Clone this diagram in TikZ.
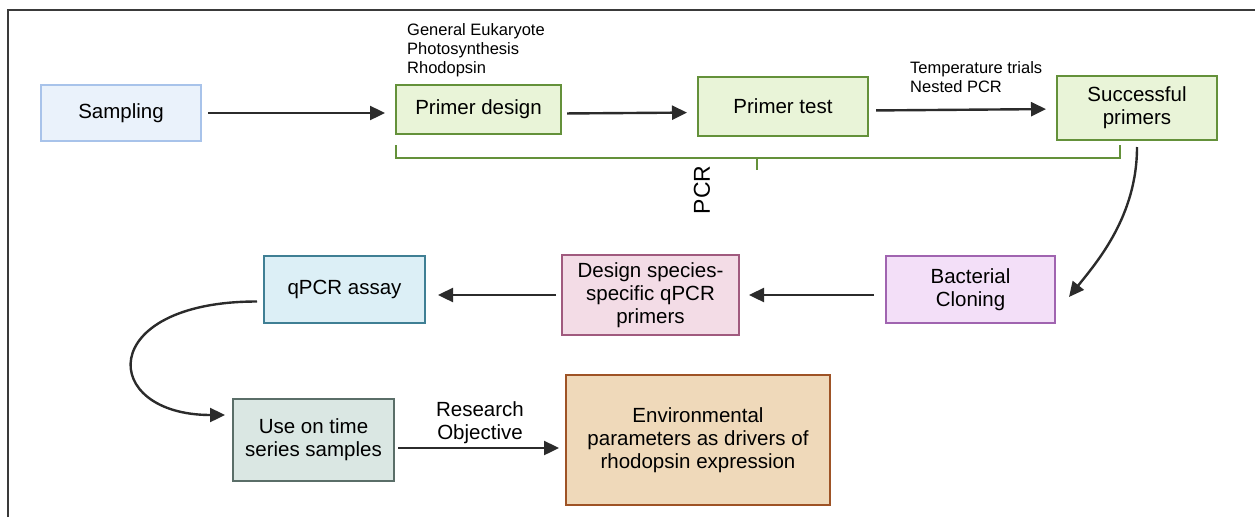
\documentclass[tikz,border=0pt]{standalone}
\usepackage{fontspec}
\setmainfont{Liberation Sans}
\usetikzlibrary{arrows.meta,positioning}

\definecolor{sampfill}{HTML}{EAF2FB}
\definecolor{sampline}{HTML}{A8C3EA}
\definecolor{pcrfill}{HTML}{E9F4D8}
\definecolor{pcrline}{HTML}{64913A}
\definecolor{clonfill}{HTML}{F3DFF8}
\definecolor{clonline}{HTML}{A064B0}
\definecolor{specfill}{HTML}{F3DCE6}
\definecolor{specline}{HTML}{A05A7E}
\definecolor{qpcrfill}{HTML}{DCEFF6}
\definecolor{qpcrline}{HTML}{3F7F94}
\definecolor{usefill}{HTML}{DAE7E3}
\definecolor{useline}{HTML}{5A6E68}
\definecolor{envfill}{HTML}{EFD9BA}
\definecolor{envline}{HTML}{9E5326}
\definecolor{arrcol}{HTML}{2B2B2B}
\definecolor{framecol}{HTML}{3A3A3A}

\begin{document}
\begin{tikzpicture}[x=1pt, y=-1pt,
  every node/.style={font=\fontsize{20.5}{23}\selectfont},
  box/.style={draw, line width=2pt, align=center, inner sep=2pt},
  arr/.style={-{Triangle[length=15pt,width=14pt]}, line width=2.4pt, draw=arrcol},
  note/.style={font=\fontsize{16.5}{19}\selectfont, align=left, inner sep=0pt},
]
\useasboundingbox (0,0) rectangle (1255,517);
% Frame (top and left edge only)
\draw[framecol, line width=1.6pt] (8,517) -- (8,10) -- (1255,10);

% Top row
\node[box, fill=sampfill, draw=sampline, minimum width=160pt, minimum height=56pt] (samp) at (121,113) {Sampling};
\node[box, fill=pcrfill, draw=pcrline, minimum width=165pt, minimum height=49pt] (design) at (478.5,109.5) {Primer design};
\node[box, fill=pcrfill, draw=pcrline, minimum width=170pt, minimum height=59pt] (test) at (783,106.5) {Primer test};
\node[box, fill=pcrfill, draw=pcrline, minimum width=160pt, minimum height=64pt] (succ) at (1137,108) {Successful\\primers};
\node[note, anchor=north west] (targets) at (407,23) {General Eukaryote\\Photosynthesis\\Rhodopsin};
\node[note, anchor=north west] (trials) at (910,61) {Temperature trials\\Nested PCR};

% PCR bracket
\draw[pcrline, line width=2pt] (396,145) |- (1120,158) -- (1120,145);
\draw[pcrline, line width=2pt] (757,158) -- (757,170);
\node[font=\fontsize{23}{26}\selectfont, rotate=90] (pcr) at (702,190) {PCR};

% Middle row
\node[box, fill=clonfill, draw=clonline, minimum width=169pt, minimum height=67pt] (clon) at (970.5,289.5) {Bacterial\\Cloning};
\node[box, fill=specfill, draw=specline, minimum width=177pt, minimum height=80pt] (spec) at (650.5,295) {Design species-\\specific qPCR\\primers};
\node[box, fill=qpcrfill, draw=qpcrline, minimum width=161pt, minimum height=67pt] (qpcr) at (344.5,289.5) {qPCR assay};

% Bottom row
\node[box, fill=usefill, draw=useline, minimum width=161pt, minimum height=82pt] (use) at (313.5,440) {Use on time\\series samples};
\node[box, fill=envfill, draw=envline, minimum width=264pt, minimum height=130pt] (env) at (698,440) {Environmental\\parameters as drivers of\\rhodopsin expression};
\node[align=center, inner sep=0pt, anchor=south] (goal) at (480,444) {Research\\Objective};

% Arrows
\draw[arr, shorten <=6pt, shorten >=10pt] (samp.east) -- (samp.east -| design.west);
\draw[arr, shorten <=5pt, shorten >=10pt] ([yshift=-4pt]design.east) -- ([yshift=-6pt]test.west);
\draw[arr, shorten <=7pt, shorten >=10pt] ([yshift=-4pt]test.east) -- ([yshift=-1pt]succ.west);
\draw[arr, shorten <=6pt] (succ.south) .. controls +(0,75) and +(28,-35) .. ([xshift=13pt,yshift=-7.5pt]clon.east);
\draw[arr, shorten <=11pt, shorten >=9pt] (clon.west |- spec.east) -- (spec.east);
\draw[arr, shorten <=5pt, shorten >=12pt] (spec.west) -- (spec.west -| qpcr.east);
\draw[arr, shorten <=6pt] ([yshift=-12pt]qpcr.west) .. controls +(-168,0) and +(-126,0) .. ([xshift=-7pt,yshift=25pt]use.west);
\draw[arr, shorten <=3pt, shorten >=6pt] ([yshift=-8pt]use.east) -- ([yshift=-8pt]use.east -| env.west);
\end{tikzpicture}
\end{document}
